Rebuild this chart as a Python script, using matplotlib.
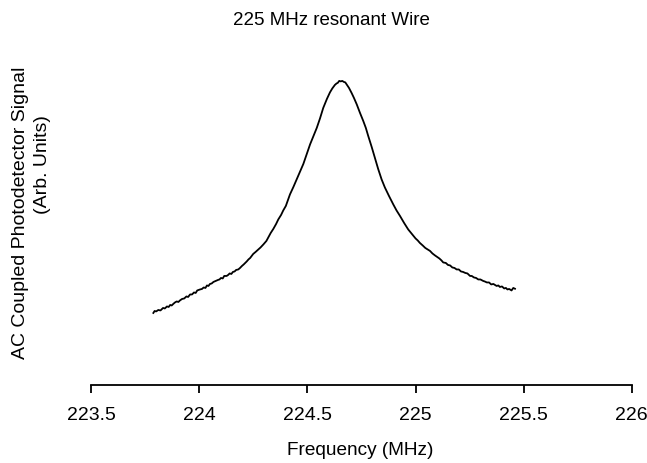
import matplotlib
matplotlib.use("Agg")
import matplotlib.pyplot as plt

plt.rcParams['font.family'] = ['Liberation Sans', 'DejaVu Sans']

# frequency (MHz) and signal (arb. units)
freq = [223.787, 223.793, 223.80, 223.81, 223.82, 223.832, 223.84, 223.85,
        223.858, 223.865, 223.872, 223.879, 223.887, 223.895, 223.903, 223.91,
        223.92, 223.93, 223.94, 223.948, 223.957, 223.966, 223.975, 223.983,
        223.99, 224.003, 224.012, 224.02, 224.028, 224.035, 224.042, 224.049,
        224.057, 224.065, 224.075, 224.086, 224.093, 224.10, 224.108, 224.115,
        224.126, 224.133, 224.14, 224.148, 224.155, 224.163, 224.17, 224.18,
        224.188, 224.197, 224.205, 224.212, 224.219, 224.227, 224.235, 224.242,
        224.249, 224.26, 224.27, 224.283, 224.296, 224.31, 224.32, 224.33,
        224.342, 224.355, 224.365, 224.378, 224.388, 224.40, 224.419, 224.435,
        224.450, 224.465, 224.481, 224.497, 224.512, 224.528, 224.543, 224.558,
        224.573, 224.59, 224.604, 224.615, 224.627, 224.635, 224.64, 224.647,
        224.654, 224.661, 224.668, 224.675, 224.681, 224.692, 224.704, 224.715,
        224.728, 224.743, 224.758, 224.77, 224.781, 224.797, 224.812, 224.827,
        224.843, 224.858, 224.877, 224.897, 224.912, 224.928, 224.947, 224.966,
        224.983, 225.00, 225.010, 225.020, 225.033, 225.045, 225.056, 225.067,
        225.078, 225.09, 225.10, 225.11, 225.12, 225.128, 225.14, 225.15,
        225.16, 225.17, 225.18, 225.190, 225.20, 225.21, 225.22, 225.23,
        225.24, 225.252, 225.26, 225.27, 225.28, 225.29, 225.30, 225.313,
        225.32, 225.33, 225.34, 225.35, 225.36, 225.375, 225.383, 225.39,
        225.40, 225.41, 225.418, 225.425, 225.433, 225.444, 225.452, 225.460]
signal = [0.72, 0.74, 0.735, 0.75, 0.745, 0.77, 0.765, 0.785,
          0.78, 0.80, 0.795, 0.81, 0.825, 0.835, 0.83, 0.845,
          0.86, 0.865, 0.885, 0.88, 0.905, 0.905, 0.925, 0.92,
          0.945, 0.955, 0.96, 0.975, 0.97, 0.995, 0.99, 1.01,
          1.015, 1.03, 1.04, 1.05, 1.055, 1.07, 1.065, 1.09,
          1.09, 1.10, 1.115, 1.11, 1.13, 1.135, 1.15, 1.155,
          1.17, 1.19, 1.205, 1.22, 1.235, 1.255, 1.27, 1.29,
          1.31, 1.33, 1.35, 1.375, 1.405, 1.44, 1.48, 1.52,
          1.56, 1.61, 1.655, 1.70, 1.745, 1.79, 1.905, 1.98,
          2.055, 2.13, 2.21, 2.31, 2.405, 2.49, 2.57, 2.665,
          2.77, 2.86, 2.925, 2.965, 3.00, 3.015, 3.02, 3.04,
          3.035, 3.04, 3.03, 3.025, 3.005, 2.97, 2.92, 2.87,
          2.805, 2.72, 2.64, 2.57, 2.49, 2.38, 2.27, 2.16,
          2.055, 1.975, 1.89, 1.805, 1.745, 1.69, 1.62, 1.555,
          1.51, 1.465, 1.445, 1.42, 1.395, 1.37, 1.355, 1.34,
          1.315, 1.295, 1.28, 1.265, 1.245, 1.225, 1.22, 1.20,
          1.195, 1.175, 1.17, 1.155, 1.155, 1.135, 1.13, 1.12,
          1.115, 1.09, 1.09, 1.075, 1.07, 1.055, 1.055, 1.04,
          1.035, 1.025, 1.025, 1.005, 1.01, 0.99, 0.995, 0.98,
          0.985, 0.965, 0.97, 0.955, 0.96, 0.945, 0.97, 0.962]

xticks = [223.5, 224, 224.5, 225, 225.5, 226]
xticklabels = ["223.5", "224", "224.5", "225", "225.5", "226"]

fig = plt.figure(figsize=(6.47, 4.63), dpi=100)
ax = fig.add_axes([0.1411, 0.1685, 0.8353, 0.70])

ax.plot(freq, signal, color='black', linewidth=1.3)

ax.set_xlim(223.5, 226)
ax.set_ylim(0, 3.24)
ax.set_xticks(xticks)
ax.set_xticklabels(xticklabels, fontsize=14)
ax.set_yticks([])
for s in ['top', 'right', 'left']:
    ax.spines[s].set_visible(False)
ax.spines['bottom'].set_linewidth(1.3)
ax.tick_params(axis='x', direction='out', length=5.5, width=1.3, pad=10)

fig.text(0.513, 0.955, "225 MHz resonant Wire", ha='center', va='center', fontsize=13.5)
fig.text(0.556, 0.028, "Frequency (MHz)", ha='center', va='center', fontsize=13.7)
fig.text(0.031, 0.54, "AC Coupled Photodetector Signal", ha='center', va='center',
         rotation=90, fontsize=14)
fig.text(0.066, 0.644, "(Arb. Units)", ha='center', va='center',
         rotation=90, fontsize=14)

fig.savefig("out.png", dpi=100)
